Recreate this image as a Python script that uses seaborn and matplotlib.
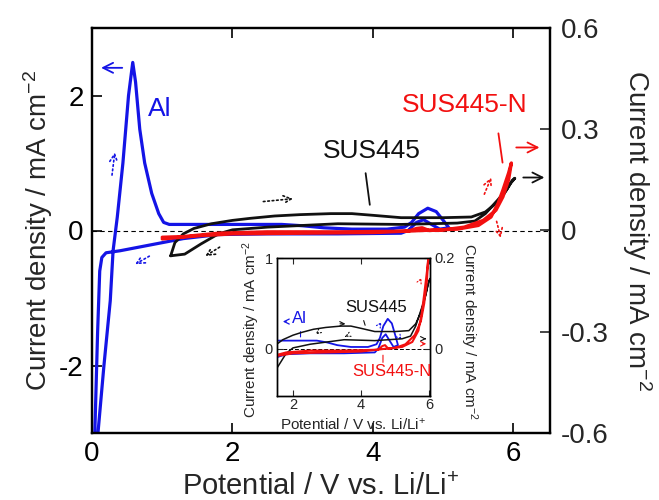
import matplotlib
matplotlib.use("Agg")
import matplotlib.pyplot as plt
import pandas as pd
import seaborn as sns

# ---------------- data ----------------
# Al  : current density on the LEFT axis (mA cm^-2)
al_potential = [0.085, 0.17, 0.26, 0.30, 0.36, 0.44, 0.52, 0.58, 0.62, 0.68, 0.75,
                0.85, 0.95, 1.02, 1.10, 2.00, 2.70, 3.00, 3.30, 3.70, 4.20, 4.45,
                4.55, 4.65, 4.78, 4.90, 5.00, 5.08, 4.95, 4.85, 4.72, 4.62, 4.50,
                4.40, 3.50, 2.50, 1.80, 1.30, 0.80, 0.40, 0.20, 0.14, 0.11, 0.08, 0.04]
al_current = [-3.00, -2.00, -1.04, -0.30, 0.20, 1.00, 2.00, 2.49, 2.20, 1.50, 1.00,
              0.55, 0.25, 0.12, 0.09, 0.09, 0.09, 0.07, 0.04, 0.02, 0.02, 0.05,
              0.12, 0.25, 0.33, 0.28, 0.15, 0.04, 0.02, 0.08, 0.16, 0.12, 0.00,
              -0.04, -0.05, -0.05, -0.06, -0.12, -0.22, -0.30, -0.33, -0.40, -0.60, -1.50, -3.00]

# SUS445 : current density on the RIGHT axis (mA cm^-2)
sus_potential = [1.12, 1.18, 1.30, 1.45, 1.70, 2.00, 2.25, 2.60, 2.96, 3.40, 3.70, 4.00,
                 4.40, 5.00, 5.40, 5.60, 5.75, 5.87, 5.96, 6.02, 5.98, 5.90, 5.77, 5.60,
                 5.45, 5.20, 4.80, 4.40, 3.50, 3.00, 2.50, 2.00, 1.80, 1.55, 1.32, 1.12]
sus_current = [-0.075, -0.036, -0.010, 0.006, 0.020, 0.030, 0.036, 0.043, 0.047, 0.050, 0.050, 0.045,
               0.038, 0.038, 0.040, 0.055, 0.080, 0.110, 0.140, 0.155, 0.148, 0.120, 0.089, 0.050,
               0.028, 0.022, 0.020, 0.018, 0.020, 0.015, 0.010, 0.002, -0.010, -0.040, -0.070, -0.075]

# SUS445-N : current density on the RIGHT axis (mA cm^-2)
susn_potential = [1.00, 1.30, 1.80, 2.50, 3.50, 4.50, 4.62, 4.70, 4.80, 5.00, 5.30, 5.57,
                  5.75, 5.85, 5.93, 5.97, 5.93, 5.85, 5.78, 5.68, 5.50, 5.20, 4.70, 4.00,
                  3.00, 2.00, 1.50, 1.00]
susn_current = [-0.020, -0.018, -0.008, -0.004, -0.004, -0.002, 0.006, 0.008, 0.000, 0.002, 0.010, 0.030,
                0.060, 0.100, 0.150, 0.200, 0.170, 0.120, 0.080, 0.040, 0.015, 0.004, 0.000, -0.006,
                -0.008, -0.010, -0.016, -0.025]

main_xticks = [0, 2, 4, 6]
main_left_ticks = [-2, 0, 2]
main_right_ticks = [-0.6, -0.3, 0, 0.3, 0.6]
main_right_labels = ["-0.6", "-0.3", "0", "0.3", "0.6"]
inset_xticks = [2, 4, 6]
inset_left_ticks = [0, 1]
inset_right_ticks = [0, 0.2]
inset_right_labels = ["0", "0.2"]

x_label = "Potential / V vs. Li/Li$^{+}$"
y_label = "Current density / mA cm$^{-2}$"

# ---------------- style ----------------
sns.set_style("ticks")
plt.rcParams["font.family"] = ["Liberation Sans", "DejaVu Sans"]
plt.rcParams["mathtext.fontset"] = "custom"
plt.rcParams["mathtext.rm"] = "Liberation Sans"
plt.rcParams["mathtext.it"] = "Liberation Sans:italic"
plt.rcParams["mathtext.bf"] = "Liberation Sans:bold"
plt.rcParams["mathtext.default"] = "regular"
plt.rcParams["axes.unicode_minus"] = False

BLUE = "#1414e6"
RED = "#f21010"
BLACK = "#111111"

al_df = pd.DataFrame({"potential": al_potential, "current": al_current})
sus_df = pd.DataFrame({"potential": sus_potential, "current": sus_current})
susn_df = pd.DataFrame({"potential": susn_potential, "current": susn_current})

W, H = 659, 500
fig = plt.figure(figsize=(W / 100, H / 100), dpi=100)

# ---------------- main axes ----------------
ax = fig.add_axes([92 / W, (H - 433) / H, 458 / W, 405 / H])
ax2 = ax.twinx()

sns.lineplot(data=al_df, x="potential", y="current", sort=False, estimator=None,
             ax=ax, color=BLUE, lw=2.3)
sns.lineplot(data=sus_df, x="potential", y="current", sort=False, estimator=None,
             ax=ax2, color=BLACK, lw=2.0)
sns.lineplot(data=susn_df, x="potential", y="current", sort=False, estimator=None,
             ax=ax2, color=RED, lw=2.4)

ax.axhline(0, color="black", lw=0.8, ls=(0, (4, 3)), zorder=0)
ax.set_xlim(0, 6.52)
ax.set_ylim(-3, 3)
ax2.set_ylim(-0.6, 0.6)

ax.set_xticks(main_xticks)
ax.set_xticklabels([str(t) for t in main_xticks])
ax.set_yticks(main_left_ticks)
ax.set_yticklabels([str(t) for t in main_left_ticks])
ax2.set_yticks(main_right_ticks)
ax2.set_yticklabels(main_right_labels)

for a in (ax, ax2):
    for s in a.spines.values():
        s.set_linewidth(1.6)
        s.set_color("black")
ax.tick_params(axis="both", direction="in", length=7, width=1.2, labelsize=20,
               top=True, right=False, pad=6, colors="black")
ax2.tick_params(axis="y", direction="in", length=7, width=1.2, labelsize=20, pad=8)

ax.set_xlabel(x_label, fontsize=21)
ax.set_ylabel(y_label, fontsize=20)
ax2.set_ylabel(y_label, fontsize=20, rotation=270)
ax.xaxis.set_label_coords(0.5, -0.133)
ax.xaxis.label.set_va("center")
ax.yaxis.set_label_coords(-0.118, 0.5)
ax.yaxis.label.set_va("center")
ax2.yaxis.set_label_coords(1.19, 0.5)
ax2.yaxis.label.set_va("center")

# annotations on main axes
ax.text(0.97, 1.8, "Al", color=BLUE, fontsize=19, ha="center", va="center")
ax.annotate("", xy=(0.09, 2.41), xytext=(0.47, 2.41),
            arrowprops=dict(arrowstyle="->", color=BLUE, lw=1.3, mutation_scale=18))
ax.annotate("", xy=(0.33, 1.2), xytext=(0.28, 0.78),
            arrowprops=dict(arrowstyle="->", color=BLUE, lw=1.2, ls=":", mutation_scale=14))
ax.annotate("", xy=(0.58, -0.52), xytext=(0.85, -0.36),
            arrowprops=dict(arrowstyle="->", color=BLUE, lw=1.2, ls=":", mutation_scale=14))

ax2.text(3.99, 0.237, "SUS445", color=BLACK, fontsize=19, ha="center", va="center")
ax2.annotate("", xy=(3.96, 0.068), xytext=(3.89, 0.178),
             arrowprops=dict(arrowstyle="-", color=BLACK, lw=1.3))
ax2.text(5.31, 0.372, "SUS445-N", color=RED, fontsize=19, ha="center", va="center")
ax2.annotate("", xy=(5.85, 0.193), xytext=(5.78, 0.296),
             arrowprops=dict(arrowstyle="-", color=RED, lw=1.3))
ax2.annotate("", xy=(6.41, 0.246), xytext=(6.0, 0.246),
             arrowprops=dict(arrowstyle="->", color=RED, lw=1.3, mutation_scale=18))
ax2.annotate("", xy=(6.48, 0.157), xytext=(6.10, 0.157),
             arrowprops=dict(arrowstyle="->", color=BLACK, lw=1.3, mutation_scale=18))
ax2.annotate("", xy=(2.90, 0.095), xytext=(2.40, 0.085),
             arrowprops=dict(arrowstyle="->", color=BLACK, lw=1.2, ls=":", mutation_scale=14))
ax2.annotate("", xy=(1.58, -0.08), xytext=(1.85, -0.045),
             arrowprops=dict(arrowstyle="->", color=BLACK, lw=1.2, ls=":", mutation_scale=14))
ax2.annotate("", xy=(5.70, 0.165), xytext=(5.57, 0.10),
             arrowprops=dict(arrowstyle="->", color=RED, lw=1.2, ls=":", mutation_scale=14))
ax2.annotate("", xy=(5.83, -0.03), xytext=(5.75, 0.035),
             arrowprops=dict(arrowstyle="->", color=RED, lw=1.2, ls=":", mutation_scale=14))

# ---------------- inset ----------------
ins = fig.add_axes([277 / W, (H - 396) / H, 153 / W, 138 / H])
ins.set_facecolor("white")
ins2 = ins.twinx()

sns.lineplot(data=al_df, x="potential", y="current", sort=False, estimator=None,
             ax=ins, color=BLUE, lw=1.3)
sns.lineplot(data=sus_df, x="potential", y="current", sort=False, estimator=None,
             ax=ins2, color=BLACK, lw=1.1)
sns.lineplot(data=susn_df, x="potential", y="current", sort=False, estimator=None,
             ax=ins2, color=RED, lw=1.5)
ins.axhline(0, color="black", lw=0.7, ls=(0, (4, 2)), zorder=0)

ins.set_xlim(1.53, 6.02)
ins.set_ylim(-0.52, 1.0)
ins2.set_ylim(-0.104, 0.2)
ins.set_xticks(inset_xticks)
ins.set_xticklabels([str(t) for t in inset_xticks])
ins.set_yticks(inset_left_ticks)
ins.set_yticklabels([str(t) for t in inset_left_ticks])
ins2.set_yticks(inset_right_ticks)
ins2.set_yticklabels(inset_right_labels)

for a in (ins, ins2):
    for s in a.spines.values():
        s.set_linewidth(1.0)
        s.set_color("black")
ins.tick_params(axis="both", direction="in", length=4, width=0.8, labelsize=10.5,
                top=True, right=False, pad=1.5)
ins.tick_params(axis="y", pad=3)
ins2.tick_params(axis="y", direction="in", length=4, width=0.8, labelsize=10.5, pad=3)

ins.set_xlabel(x_label, fontsize=11)
ins.set_ylabel(y_label, fontsize=11)
ins2.set_ylabel(y_label, fontsize=11, rotation=270)
ins.xaxis.set_label_coords(0.5, -0.205)
ins.xaxis.label.set_va("center")
ins.yaxis.set_label_coords(-0.17, 0.48)
ins.yaxis.label.set_va("center")
ins2.yaxis.set_label_coords(1.255, 0.47)
ins2.yaxis.label.set_va("center")

ins.text(2.2, 0.33, "Al", color=BLUE, fontsize=12, ha="center", va="center")
ins.annotate("", xy=(1.62, 0.30), xytext=(1.88, 0.30),
             arrowprops=dict(arrowstyle="->", color=BLUE, lw=0.9, mutation_scale=9))
ins.annotate("", xy=(2.22, 0.10), xytext=(2.22, 0.22),
             arrowprops=dict(arrowstyle="-", color=BLUE, lw=0.8))
ins.annotate("", xy=(4.64, 0.32), xytext=(4.50, 0.24),
             arrowprops=dict(arrowstyle="->", color=BLUE, lw=0.8, ls=":", mutation_scale=8))
ins.annotate("", xy=(5.23, 0.07), xytext=(5.08, 0.15),
             arrowprops=dict(arrowstyle="->", color=BLUE, lw=0.8, ls=":", mutation_scale=8))

ins2.text(4.43, 0.092, "SUS445", color=BLACK, fontsize=12, ha="center", va="center")
ins2.annotate("", xy=(4.14, 0.046), xytext=(4.05, 0.068),
              arrowprops=dict(arrowstyle="-", color=BLACK, lw=0.8))
ins2.text(4.90, -0.05, "SUS445-N", color=RED, fontsize=12, ha="center", va="center")
ins2.annotate("", xy=(4.64, -0.036), xytext=(4.64, -0.008),
              arrowprops=dict(arrowstyle="-", color=RED, lw=0.8))
ins2.annotate("", xy=(3.62, 0.055), xytext=(3.30, 0.055),
              arrowprops=dict(arrowstyle="->", color=BLACK, lw=0.8, mutation_scale=8))
ins2.annotate("", xy=(2.60, 0.028), xytext=(2.80, 0.040),
              arrowprops=dict(arrowstyle="->", color=BLACK, lw=0.8, ls=":", mutation_scale=8))
ins2.annotate("", xy=(3.45, 0.024), xytext=(3.62, 0.030),
              arrowprops=dict(arrowstyle="->", color=BLACK, lw=0.8, ls=":", mutation_scale=8))
ins2.annotate("", xy=(5.99, 0.022), xytext=(5.78, 0.022),
              arrowprops=dict(arrowstyle="->", color=BLACK, lw=0.8, mutation_scale=8))
ins2.annotate("", xy=(5.99, 0.011), xytext=(5.72, 0.011),
              arrowprops=dict(arrowstyle="->", color=RED, lw=0.8, mutation_scale=8))
ins2.annotate("", xy=(5.80, 0.162), xytext=(5.70, 0.145),
              arrowprops=dict(arrowstyle="->", color=RED, lw=0.8, ls=":", mutation_scale=8))

fig.savefig("out.png", dpi=100)
